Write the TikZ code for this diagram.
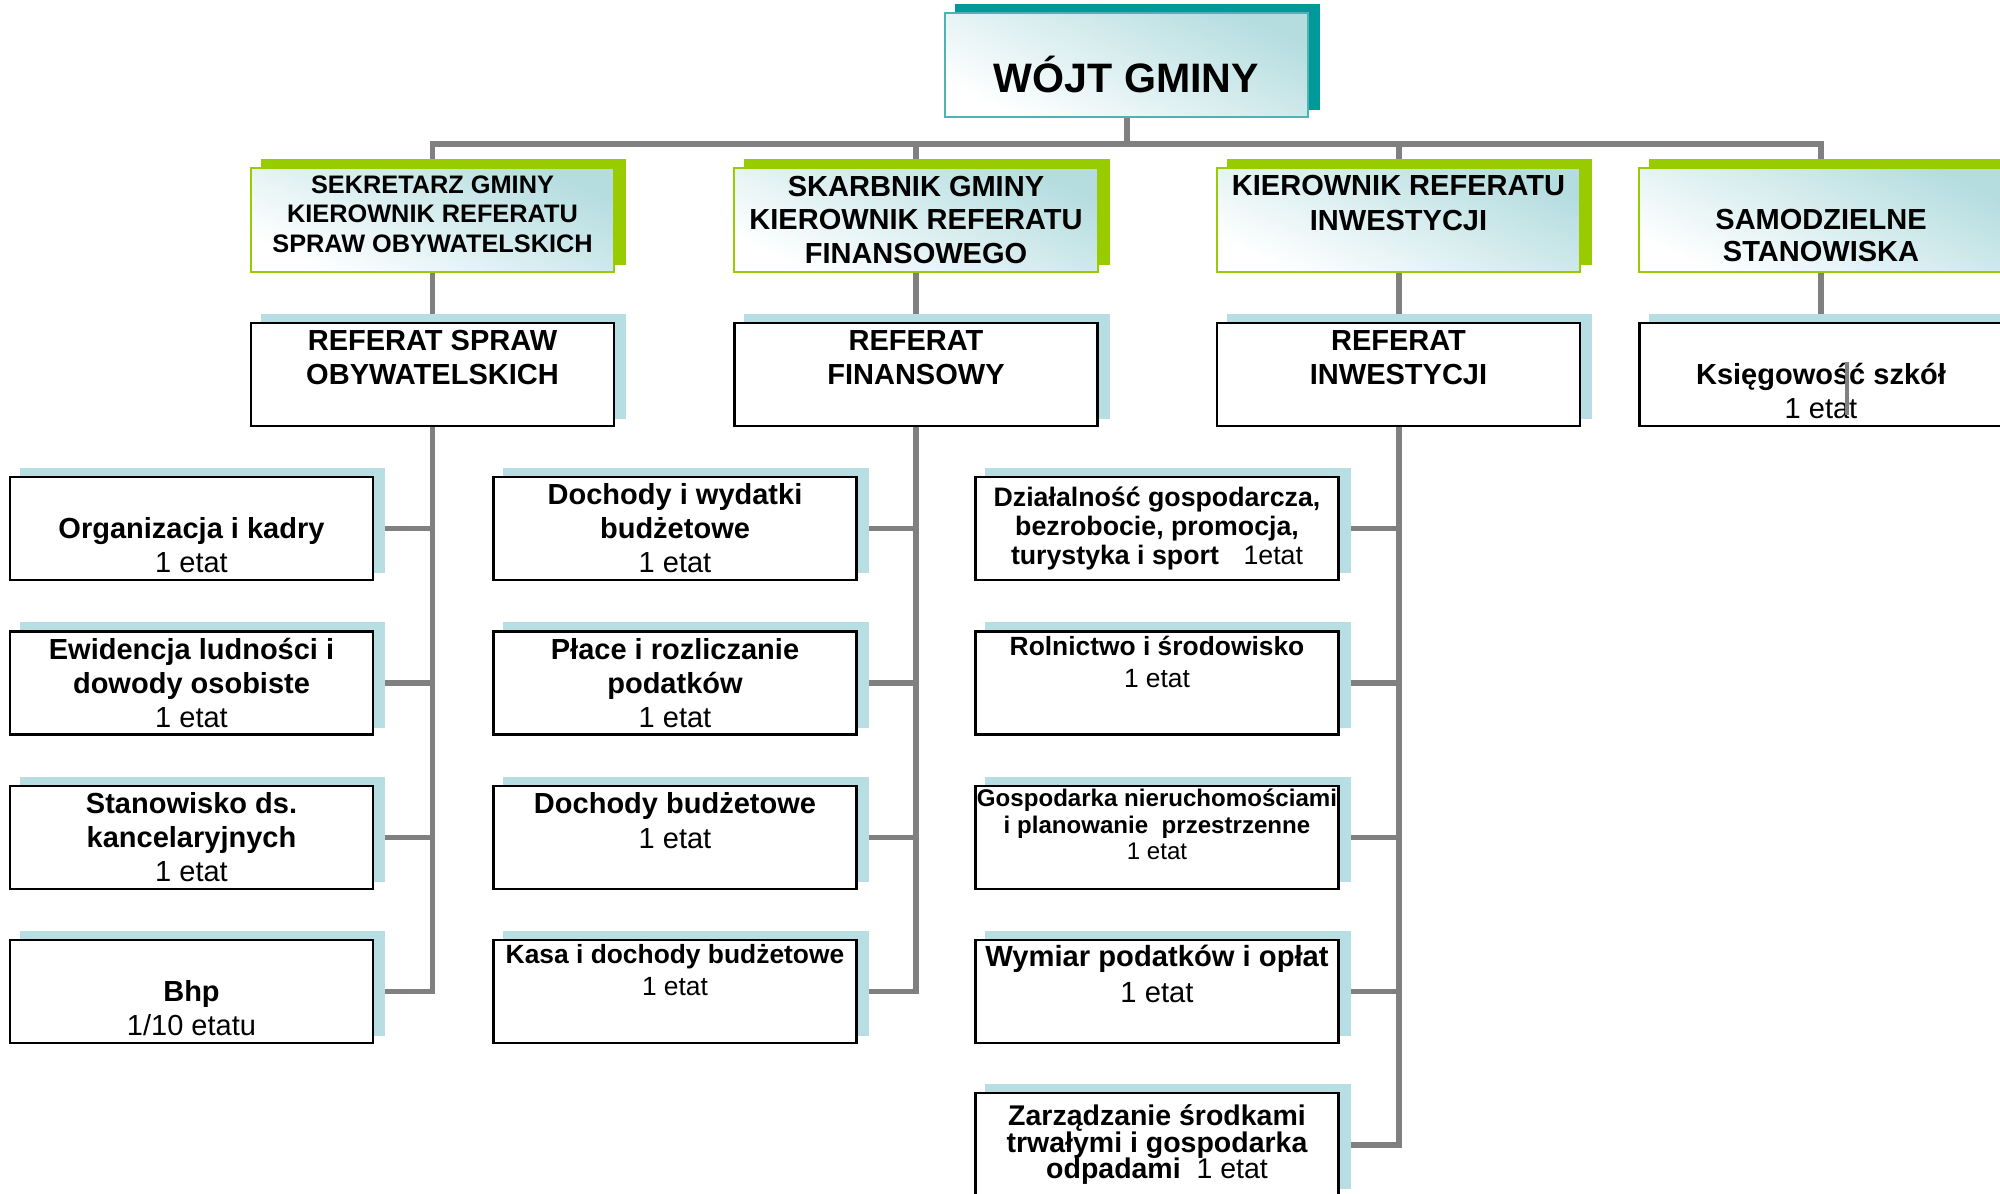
\documentclass[tikz,border=0pt]{standalone}
\usepackage{fontspec}
\setmainfont{Liberation Sans}
\usepackage{tikz}
\usetikzlibrary{backgrounds}
\definecolor{tealdark}{HTML}{009999}
\definecolor{tealedge}{HTML}{4DB3B3}
\definecolor{leafgreen}{HTML}{99CC00}
\definecolor{shadowblue}{HTML}{B7DEE2}
\definecolor{gradteal}{HTML}{B5DDE0}
\definecolor{linegray}{HTML}{808080}
\newcommand{\etat}[1]{{\mdseries #1}}
\newcommand{\emptyln}{\vphantom{A}}

\begin{document}
\begin{tikzpicture}[x=0.01cm,y=-0.01cm,
  conn/.style={draw=linegray,line width=1.7pt},
  head/.style={draw=tealedge,line width=0.6pt,top color=gradteal,bottom color=white,shading angle=-25,
    minimum width=3.63cm,minimum height=1.04cm,inner sep=0pt,align=center},
  chief/.style={draw=leafgreen,line width=0.6pt,top color=gradteal,bottom color=white,shading angle=-25,
    minimum width=3.63cm,minimum height=1.04cm,inner sep=0pt,align=center,
    font=\bfseries\fontsize{8.25}{9.4}\selectfont},
  unit/.style={draw=black,line width=0.7pt,fill=white,minimum width=3.63cm,minimum height=1.03cm,
    inner sep=0pt,align=center,font=\bfseries\fontsize{8.25}{9.7}\selectfont}]
\useasboundingbox (0,0) rectangle (2000,1194);
\clip (0,0) rectangle (2000,1194);

\node[head,font=\bfseries\fontsize{11.7}{14}\selectfont,text height=15.5pt,text depth=0pt] (wojt) at (1126.5,65) {WÓJT GMINY};

\node[chief,font=\bfseries\fontsize{7.2}{8.4}\selectfont] (sekr) at (432.5,220) {SEKRETARZ GMINY\\KIEROWNIK REFERATU\\SPRAW OBYWATELSKICH\\[-5pt]\emptyln};
\node[chief] (skarb) at (916,220) {SKARBNIK GMINY\\KIEROWNIK REFERATU\\FINANSOWEGO};
\node[chief,font=\bfseries\fontsize{8.25}{9.8}\selectfont] (kier) at (1398.5,220) {KIEROWNIK REFERATU\\INWESTYCJI\\\emptyln};
\node[chief,font=\bfseries\fontsize{8.25}{9}\selectfont] (samo) at (1821,220) {\emptyln\\SAMODZIELNE\\STANOWISKA};

\node[unit] (refso) at (432.5,374.5) {REFERAT SPRAW\\OBYWATELSKICH\\\emptyln};
\node[unit] (reffin) at (916,374.5) {REFERAT\\FINANSOWY\\\emptyln};
\node[unit] (refinw) at (1398.5,374.5) {REFERAT\\INWESTYCJI\\\emptyln};
\node[unit] (ksieg) at (1821,374.5) {\emptyln\\Księgowość szkół\\\etat{1 etat}};

\node[unit] (org) at (191.5,528.5) {\emptyln\\Organizacja i kadry\\\etat{1 etat}};
\node[unit] (ewid) at (191.5,683) {Ewidencja ludności i\\dowody osobiste\\\etat{1 etat}};
\node[unit] (kanc) at (191.5,837.5) {Stanowisko ds.\\kancelaryjnych\\\etat{1 etat}};
\node[unit] (bhp) at (191.5,991.5) {\emptyln\\Bhp\\\etat{1/10 etatu}};

\node[unit] (dochwyd) at (675,528.5) {Dochody i wydatki\\budżetowe\\\etat{1 etat}};
\node[unit] (place) at (675,683) {Płace i rozliczanie\\podatków\\\etat{1 etat}};
\node[unit] (dochb) at (675,837.5) {Dochody budżetowe\\\etat{1 etat}\\\emptyln};
\node[unit,font=\bfseries\fontsize{7.5}{9.1}\selectfont] (kasa) at (675,991.5) {Kasa i dochody budżetowe\\\etat{1 etat}\\\emptyln\\[-6pt]\emptyln};

\node[unit,font=\bfseries\fontsize{7.6}{8.2}\selectfont] (dzial) at (1157,528.5) {Działalność gospodarcza,\\bezrobocie, promocja,\\turystyka i sport\hspace{7pt}\etat{1etat}};
\node[unit,font=\bfseries\fontsize{7.5}{9.1}\selectfont] (roln) at (1157,683) {Rolnictwo i środowisko\\\etat{1 etat}\\\emptyln\\[-6pt]\emptyln};
\node[unit,font=\bfseries\fontsize{6.85}{7.5}\selectfont] (nieruch) at (1157,837.5) {Gospodarka nieruchomościami\\i planowanie~~przestrzenne\\\etat{1 etat}\\\emptyln};
\node[unit,font=\bfseries\fontsize{8.3}{10.2}\selectfont] (wymiar) at (1157,991.5) {Wymiar podatków i opłat\\\etat{1 etat}\\\emptyln};
\node[unit,font=\bfseries\fontsize{8.1}{7.6}\selectfont] (srodki) at (1157,1144.5) {Zarządzanie środkami\\trwałymi i gospodarka\\odpadami~~\etat{1 etat}};

\coordinate (bar) at (1126.5,144);
\begin{scope}[on background layer]
\foreach \n in {sekr,skarb,kier,samo}
  \draw[conn] (wojt.south) |- (bar) -| (\n.north);
\draw[conn] (sekr) -- (refso);
\draw[conn] (skarb) -- (reffin);
\draw[conn] (kier) -- (refinw);
\draw[conn] (samo) -- (ksieg);
\foreach \n in {org,ewid,kanc,bhp}
  \draw[conn] (refso.south) |- (\n.east);
\foreach \n in {dochwyd,place,dochb,kasa}
  \draw[conn] (reffin.south) |- (\n.east);
\foreach \n in {dzial,roln,nieruch,wymiar,srodki}
  \draw[conn] (refinw.south) |- (\n.east);
\foreach \n/\c in {wojt/tealdark,sekr/leafgreen,skarb/leafgreen,kier/leafgreen,samo/leafgreen,
    refso/shadowblue,reffin/shadowblue,refinw/shadowblue,ksieg/shadowblue,
    org/shadowblue,ewid/shadowblue,kanc/shadowblue,bhp/shadowblue,
    dochwyd/shadowblue,place/shadowblue,dochb/shadowblue,kasa/shadowblue,
    dzial/shadowblue,roln/shadowblue,nieruch/shadowblue,wymiar/shadowblue,srodki/shadowblue}
  \fill[\c] ([xshift=0.11cm,yshift=0.08cm]\n.south west) rectangle ([xshift=0.11cm,yshift=0.08cm]\n.north east);
\end{scope}

\coordinate (glitchtop) at (1847,362);
\coordinate (glitchend) at (1847,415);
\draw[conn,line width=1.4pt] (glitchtop) -- (glitchend);
\end{tikzpicture}
\end{document}
